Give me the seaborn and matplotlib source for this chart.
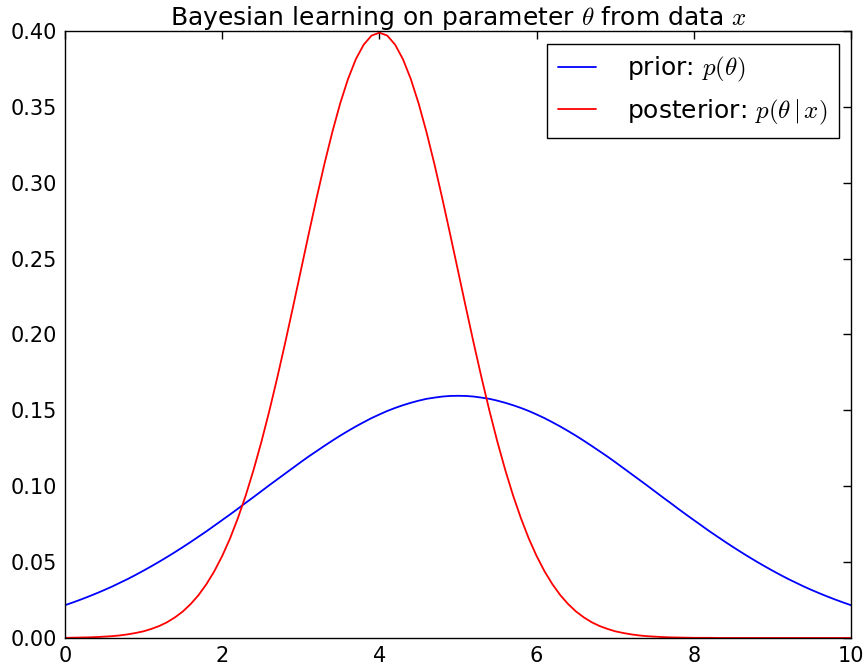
import numpy as np
import pandas as pd
import seaborn as sns
import matplotlib
matplotlib.use("Agg")
import matplotlib.pyplot as plt

# theta grid (step 0.1) and the two densities
theta = np.linspace(0, 10, 101)
prior = [0.0216, 0.0234, 0.0253, 0.0273, 0.0294, 0.0316, 0.0339, 0.0364, 0.0389, 0.0416,
         0.0444, 0.0473, 0.0503, 0.0534, 0.0566, 0.0599, 0.0633, 0.0668, 0.0703, 0.0740,
         0.0777, 0.0814, 0.0852, 0.0891, 0.0929, 0.0968, 0.1007, 0.1045, 0.1083, 0.1121,
         0.1159, 0.1196, 0.1231, 0.1266, 0.1300, 0.1333, 0.1364, 0.1394, 0.1422, 0.1449,
         0.1473, 0.1496, 0.1516, 0.1534, 0.1550, 0.1564, 0.1576, 0.1584, 0.1591, 0.1595,
         0.1596,
         0.1595, 0.1591, 0.1584, 0.1576, 0.1564, 0.1550, 0.1534, 0.1516, 0.1496, 0.1473,
         0.1449, 0.1422, 0.1394, 0.1364, 0.1333, 0.1300, 0.1266, 0.1231, 0.1196, 0.1159,
         0.1121, 0.1083, 0.1045, 0.1007, 0.0968, 0.0929, 0.0891, 0.0852, 0.0814, 0.0777,
         0.0740, 0.0703, 0.0668, 0.0633, 0.0599, 0.0566, 0.0534, 0.0503, 0.0473, 0.0444,
         0.0416, 0.0389, 0.0364, 0.0339, 0.0316, 0.0294, 0.0273, 0.0253, 0.0234, 0.0216]
posterior = [0.0001, 0.0002, 0.0003, 0.0004, 0.0006, 0.0009, 0.0012, 0.0017, 0.0024, 0.0033,
             0.0044, 0.0060, 0.0079, 0.0104, 0.0136, 0.0175, 0.0224, 0.0283, 0.0355, 0.0440,
             0.0540, 0.0656, 0.0790, 0.0940, 0.1109, 0.1295, 0.1497, 0.1714, 0.1942, 0.2179,
             0.2420, 0.2661, 0.2897, 0.3123, 0.3332, 0.3521, 0.3683, 0.3814, 0.3910, 0.3970,
             0.3989,
             0.3970, 0.3910, 0.3814, 0.3683, 0.3521, 0.3332, 0.3123, 0.2897, 0.2661, 0.2420,
             0.2179, 0.1942, 0.1714, 0.1497, 0.1295, 0.1109, 0.0940, 0.0790, 0.0656, 0.0540,
             0.0440, 0.0355, 0.0283, 0.0224, 0.0175, 0.0136, 0.0104, 0.0079, 0.0060, 0.0044,
             0.0033, 0.0024, 0.0017, 0.0012, 0.0009, 0.0006, 0.0004, 0.0003, 0.0002, 0.0001,
             0.0001, 0.0001, 0.0000, 0.0000, 0.0000, 0.0000, 0.0000, 0.0000, 0.0000, 0.0000,
             0.0000, 0.0000, 0.0000, 0.0000, 0.0000, 0.0000, 0.0000, 0.0000, 0.0000, 0.0000]

df = pd.DataFrame({"theta": theta, "prior": prior, "posterior": posterior})

sns.set_style("white")
plt.rcParams.update({
    "font.family": ["DejaVu Sans"],
    "mathtext.fontset": "cm",
    "text.color": "black",
    "xtick.direction": "in",
    "ytick.direction": "in",
    "xtick.top": True,
    "ytick.right": True,
    "xtick.major.size": 6,
    "ytick.major.size": 6,
    "axes.edgecolor": "black",
    "axes.linewidth": 1.0,
})

fig, ax = plt.subplots(figsize=(8.64, 6.7), dpi=100)
fig.subplots_adjust(left=0.0752, right=0.985, bottom=0.0478, top=0.9537)

sns.lineplot(data=df, x="theta", y="prior", color="blue", lw=1.3,
             label=r"prior: $p(\theta)$", ax=ax)
sns.lineplot(data=df, x="theta", y="posterior", color="red", lw=1.3,
             label=r"posterior: $p(\theta\,|\,x)$", ax=ax)

ax.set_xlim(0, 10)
ax.set_ylim(0, 0.40)
ax.set_xticks([0, 2, 4, 6, 8, 10])
ax.set_yticks(np.arange(0, 0.401, 0.05))
ax.set_yticklabels([f"{v:.2f}" for v in np.arange(0, 0.401, 0.05)])
ax.tick_params(labelsize=15, pad=6, width=1, colors="black")
ax.set_xlabel("")
ax.set_ylabel("")
ax.set_title(r"Bayesian learning on parameter $\theta$ from data $x$",
             fontsize=18, pad=4, color="black")

leg = ax.legend(loc="upper right", fontsize=18, fancybox=False, framealpha=1,
                edgecolor="black", handlelength=1.5, handletextpad=1.25,
                borderaxespad=0.5, borderpad=0.45, labelspacing=0.55)
leg.get_frame().set_linewidth(1.0)
for t in leg.get_texts():
    t.set_color("black")

fig.savefig("out.png", dpi=100)
